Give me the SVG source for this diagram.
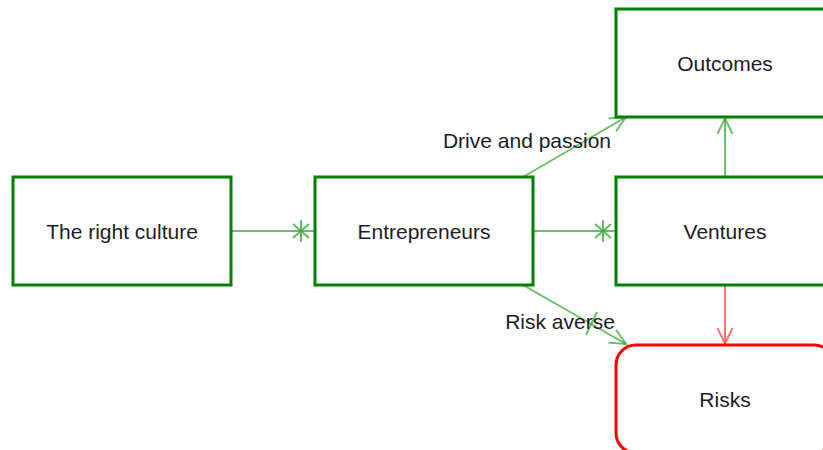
<svg xmlns="http://www.w3.org/2000/svg" xmlns:xlink="http://www.w3.org/1999/xlink" width="823" height="450" viewBox="0 0 823 450">
  <style>
    .box { fill: #ffffff; stroke: #008000; stroke-width: 3; }
    .risk { fill: #ffffff; stroke: #ff0000; stroke-width: 3; }
    .label { font-family: "Liberation Sans", Arial, sans-serif; font-size: 21px; fill: #1c1c28; text-anchor: middle; }
    .link { fill: none; stroke: #3aa83a; stroke-opacity: 0.75; stroke-width: 2; }
    .link-red { fill: none; stroke: #ff5050; stroke-opacity: 0.8; stroke-width: 2; }
  </style>
  <defs>
    <marker id="arrow-green" markerUnits="userSpaceOnUse" markerWidth="20" markerHeight="20" viewBox="-16 -10 20 20" refX="0" refY="0" orient="auto">
      <path d="M -16,-7.5 L 0,0 L -16,7.5" fill="none" stroke="#3aa83a" stroke-opacity="0.75" stroke-width="2"/>
    </marker>
    <marker id="arrow-red" markerUnits="userSpaceOnUse" markerWidth="20" markerHeight="20" viewBox="-16 -10 20 20" refX="0" refY="0" orient="auto">
      <path d="M -16,-7.5 L 0,0 L -16,7.5" fill="none" stroke="#ff5050" stroke-opacity="0.8" stroke-width="2"/>
    </marker>
    <!-- many-end glyph drawn on the link line -->
    <g id="star" fill="none" stroke="#3aa83a" stroke-opacity="0.8" stroke-width="2">
      <path d="M 0,-11 L 0,11 M -8,-7 L 8,7 M -8,7 L 8,-7"/>
    </g>
  </defs>

  <g id="connectors">
    <line class="link" x1="231" y1="231" x2="315" y2="231"/>
    <use xlink:href="#star" x="301" y="231"/>
    <line class="link" x1="533" y1="231" x2="616" y2="231"/>
    <use xlink:href="#star" x="603" y="231"/>
    <line class="link" x1="523" y1="177" x2="626" y2="117" marker-end="url(#arrow-green)"/>
    <line class="link" x1="523" y1="285" x2="626" y2="344" marker-end="url(#arrow-green)"/>
    <line class="link" x1="597" y1="312" x2="586" y2="335"/>
    <line class="link" x1="725" y1="177" x2="725" y2="118" marker-end="url(#arrow-green)"/>
    <line class="link-red" x1="725" y1="285" x2="725" y2="344" marker-end="url(#arrow-red)"/>
    <text class="label" x="527" y="148">Drive and passion</text>
    <text class="label" x="560" y="329">Risk averse</text>
  </g>

  <g id="culture">
    <rect class="box" x="13" y="177" width="218" height="108"/>
    <text class="label" x="122" y="239">The right culture</text>
  </g>
  <g id="entrepreneurs">
    <rect class="box" x="315" y="177" width="218" height="108"/>
    <text class="label" x="424" y="239">Entrepreneurs</text>
  </g>
  <g id="ventures">
    <rect class="box" x="616" y="177" width="218" height="108"/>
    <text class="label" x="725" y="239">Ventures</text>
  </g>
  <g id="outcomes">
    <rect class="box" x="616" y="9" width="218" height="108"/>
    <text class="label" x="725" y="71">Outcomes</text>
  </g>
  <g id="risks">
    <rect class="risk" x="616" y="345" width="218" height="108" rx="20" ry="20"/>
    <text class="label" x="725" y="407">Risks</text>
  </g>
</svg>
